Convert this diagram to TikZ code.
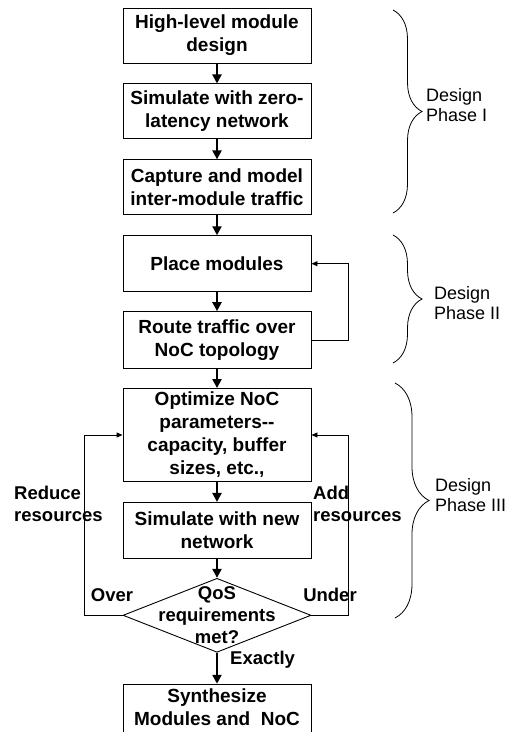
\documentclass[tikz,border=0pt]{standalone}
\usepackage{fontspec}
\setmainfont{Liberation Sans}
\usepackage{tikz}
\usetikzlibrary{positioning}
\usetikzlibrary{shapes.geometric}
\usetikzlibrary{arrows.meta}
\usetikzlibrary{decorations.pathreplacing}
\tikzset{%
  box/.style = {rectangle,draw,line width=0.9pt,minimum width=188pt,
        minimum height=55pt,inner sep=2pt,align=center,
        font=\fontsize{19pt}{23pt}\selectfont\bfseries},
  dec/.style = {diamond,draw,line width=0.9pt,minimum width=188pt,
        minimum height=74pt,inner sep=0pt},
  flow/.style = {-{Triangle[width=9pt,length=9pt]},line width=2.2pt},
  back/.style = {-{Triangle[width=5pt,length=6pt]},line width=0.9pt},
  lbl/.style = {inner sep=0pt,align=left,
        font=\fontsize{18.5pt}{22pt}\selectfont\bfseries},
  phase/.style = {inner sep=0pt,align=left,anchor=west,
        font=\fontsize{18pt}{20pt}\selectfont},
  brc/.style = {decorate,line width=0.8pt,decoration={brace,amplitude=#1}}
}
\begin{document}
\begin{tikzpicture}[x=1pt,y=-1pt,node distance=20pt]
  \useasboundingbox (0,0) rectangle (508,732);

  % design phase I
  \node[box] (hl) at (217,35.5) {High-level module\\design};
  \node[box] (zl) [below=of hl] {Simulate with zero-\\latency network};
  \node[box] (cm) [below=of zl] {Capture and model\\inter-module traffic};
  % design phase II
  \node[box,minimum height=56pt] (pm) [below=of cm] {Place modules};
  \node[box,minimum height=57pt] (rt) [below=19pt of pm] {Route traffic over\\NoC topology};
  % design phase III
  \node[box,minimum height=93pt] (op) [below=19pt of rt]
        {Optimize NoC\\parameters-{}-\\capacity, buffer\\sizes, etc.,};
  \node[box,minimum height=56pt] (sn) [below=of op] {Simulate with new\\network};
  \node[dec] (qos) [below=19pt of sn] {};
  \node[lbl,align=center] (qost) at (qos) {QoS\\requirements\\met?};
  \node[box,minimum height=56pt,text depth=11pt] (syn) [below=31pt of qos]
        {Synthesize\\Modules and\ \ NoC};

  \draw[flow] (hl) -- (zl);
  \draw[flow] (zl) -- (cm);
  \draw[flow] (cm) -- (pm);
  \draw[flow] (pm) -- (rt);
  \draw[flow] (rt) -- (op);
  \draw[flow] (op) -- (sn);
  \draw[flow] (sn) -- (qos);
  \draw[flow] (qos.south) -- (syn.north);

  \draw[back] (rt.east) -- ++(37,0) |- (pm.east);
  \draw[back] (qos.west) -- ++(-38,0) |- (op.west);
  \draw[back] (qos.east) -- ++(37,0) |- (op.east);

  \node[lbl,anchor=west] (red) at (14,504) {Reduce\\resources};
  \node[lbl,anchor=west] (add) at (313,504) {Add\\resources};
  \node[lbl] (over) at (112,595) {Over};
  \node[lbl] (under) at (330,595) {Under};
  \node[lbl,anchor=west] (ex) at (230,660) {Exactly};

  % phase braces
  \draw[brc=29pt] (393,10) -- (393,213);
  \draw[brc=29pt] (393,235) -- (393,363);
  \draw[brc=34pt] (395,383) -- (395,618);
  \node[phase] (ph1) at (426,105.5) {Design\\Phase I};
  \node[phase] (ph2) at (434,303) {Design\\Phase II};
  \node[phase] (ph3) at (435,495) {Design\\Phase III};
\end{tikzpicture}
\end{document}
